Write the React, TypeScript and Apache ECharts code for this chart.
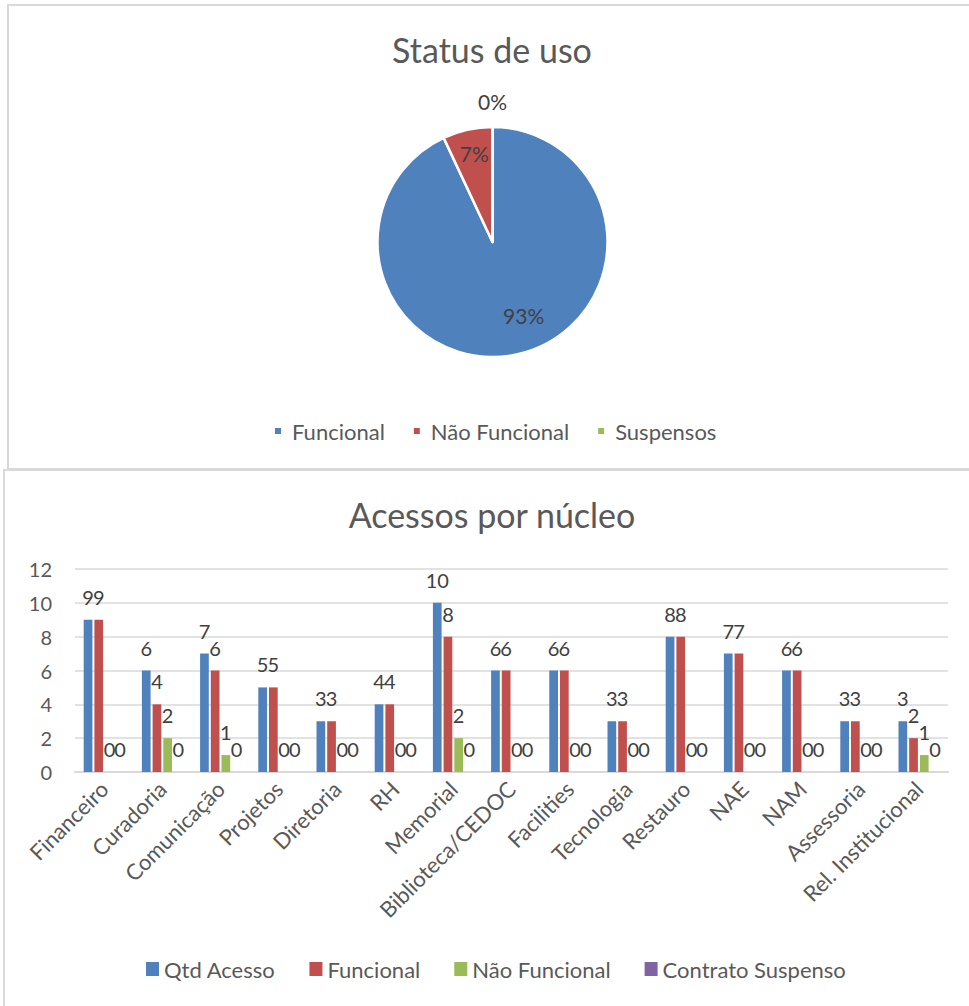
import React, { useEffect, useRef } from "react";
import * as echarts from "echarts";

// ---- Pie chart data ----
const pieTitle = "Status de uso";
const pieNames = ["Funcional", "Não Funcional", "Suspensos"];
const pieValues = [80, 6, 0];

// ---- Bar chart data ----
const barTitle = "Acessos por núcleo";
const categories = [
  "Financeiro",
  "Curadoria",
  "Comunicação",
  "Projetos",
  "Diretoria",
  "RH",
  "Memorial",
  "Biblioteca/CEDOC",
  "Facilities",
  "Tecnologia",
  "Restauro",
  "NAE",
  "NAM",
  "Assessoria",
  "Rel. Institucional",
];
const seriesNames = ["Qtd Acesso", "Funcional", "Não Funcional", "Contrato Suspenso"];
const qtdAcesso = [9, 6, 7, 5, 3, 4, 10, 6, 6, 3, 8, 7, 6, 3, 3];
const funcional = [9, 4, 6, 5, 3, 4, 8, 6, 6, 3, 8, 7, 6, 3, 2];
const naoFuncional = [0, 2, 1, 0, 0, 0, 2, 0, 0, 0, 0, 0, 0, 0, 1];
const contratoSuspenso = [0, 0, 0, 0, 0, 0, 0, 0, 0, 0, 0, 0, 0, 0, 0];
const yMin = 0;
const yMax = 12;
const yInterval = 2;

const COLORS = ["#4F81BD", "#C0504D", "#9BBB59", "#8064A2"];
const FONT = "Lato, 'Open Sans', sans-serif";
const TXT = "#595959";
const LBL = "#404040";
const BORDER = "#d9d9d9";

// label offsets for pie labels (style only)
const pieLabelShift = [
  [18, 14],
  [-5, -29],
  [0, -80],
];

export default function App() {
  const topRef = useRef<HTMLDivElement>(null);
  const botRef = useRef<HTMLDivElement>(null);

  useEffect(() => {
    document.body.style.margin = "0";
    const top = echarts.init(topRef.current!, undefined, { renderer: "svg" });
    const bot = echarts.init(botRef.current!, undefined, { renderer: "svg" });

    top.setOption({
      animation: false,
      graphic: [
        {
          type: "rect",
          shape: { x: 8, y: 5, width: 980, height: 464 },
          style: { fill: "none", stroke: BORDER, lineWidth: 2 },
          silent: true,
        },
      ],
      title: {
        text: pieTitle,
        left: 492,
        top: 32,
        padding: 0,
        textAlign: "center",
        textStyle: { fontFamily: FONT, fontSize: 34, fontWeight: "normal", color: TXT },
      },
      legend: {
        data: pieNames,
        left: 273,
        top: 420,
        padding: 0,
        itemWidth: 8,
        itemHeight: 8,
        itemGap: 27,
        icon: "rect",
        textStyle: { fontFamily: FONT, fontSize: 22, color: TXT, padding: [0, 0, 0, 5] },
      },
      color: COLORS,
      series: [
        {
          type: "pie",
          center: [492.5, 242],
          radius: 115,
          startAngle: 90,
          clockwise: true,
          percentPrecision: 0,
          itemStyle: { borderColor: "#fff", borderWidth: 2.5 },
          label: {
            show: true,
            position: "inside",
            formatter: "{d}%",
            fontFamily: FONT,
            fontSize: 21,
            color: LBL,
          },
          labelLine: { show: false },
          labelLayout: (p: any) => {
            const s = pieLabelShift[p.dataIndex] || [0, 0];
            return { dx: s[0], dy: s[1] };
          },
          emphasis: { disabled: true },
          data: pieNames.map((n, i) => ({ name: n, value: pieValues[i] })),
        },
      ],
    });

    const seriesData = [qtdAcesso, funcional, naoFuncional, contratoSuspenso];

    bot.setOption({
      animation: false,
      color: COLORS,
      graphic: [
        {
          type: "rect",
          shape: { x: 4, y: 2, width: 990, height: 560 },
          style: { fill: "none", stroke: BORDER, lineWidth: 2 },
          silent: true,
        },
      ],
      title: {
        text: barTitle,
        left: 492,
        top: 29,
        padding: 0,
        textAlign: "center",
        textStyle: { fontFamily: FONT, fontSize: 34, fontWeight: "normal", color: TXT },
      },
      legend: {
        data: seriesNames,
        left: 146,
        top: 490,
        padding: 0,
        itemWidth: 13,
        itemHeight: 14,
        itemGap: 34,
        icon: "rect",
        textStyle: { fontFamily: FONT, fontSize: 22, color: TXT },
      },
      grid: { left: 75, right: 21, top: 101, bottom: 234, containLabel: false },
      xAxis: {
        type: "category",
        data: categories,
        axisLine: { show: true, lineStyle: { color: BORDER, width: 2 } },
        axisTick: { show: false },
        axisLabel: {
          interval: 0,
          rotate: 45,
          margin: 13,
          fontFamily: FONT,
          fontSize: 22,
          color: TXT,
        },
      },
      yAxis: {
        type: "value",
        min: yMin,
        max: yMax,
        interval: yInterval,
        axisLine: { show: false },
        axisTick: { show: false },
        splitLine: { lineStyle: { color: BORDER, width: 1.5 } },
        axisLabel: { margin: 23, fontFamily: FONT, fontSize: 20, color: TXT },
      },
      series: seriesNames.map((name, i) => ({
        name,
        type: "bar",
        data: seriesData[i],
        barWidth: 8.7,
        barGap: "23%",
        label: {
          show: true,
          position: "top",
          distance: 13,
          fontFamily: FONT,
          fontSize: 20,
          color: LBL,
        },
        emphasis: { disabled: true },
      })),
    });

    return () => {
      top.dispose();
      bot.dispose();
    };
  }, []);

  return (
    <div style={{ position: "relative", width: 969, height: 1006, background: "#fff", overflow: "hidden" }}>
      <div ref={topRef} style={{ position: "absolute", left: 0, top: 0, width: 969, height: 470 }} />
      <div ref={botRef} style={{ position: "absolute", left: 0, top: 468, width: 969, height: 538 }} />
    </div>
  );
}
